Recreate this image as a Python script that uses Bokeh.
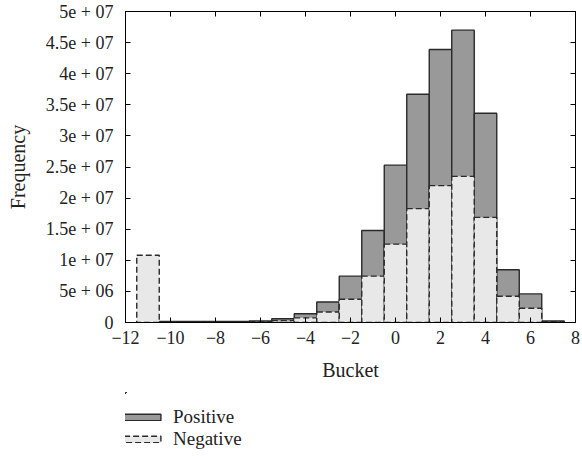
from bokeh.plotting import figure
from bokeh.layouts import column
from bokeh.models import (ColumnDataSource, LinearAxis, FixedTicker, Legend, LegendItem,
                          Range1d, CustomLabelingPolicy)
from bokeh.embed import file_html
from bokeh.resources import INLINE

buckets = list(range(-11, 8))
positive = [0.0, 0.15e6, 0.15e6, 0.15e6, 0.15e6, 0.25e6, 0.6e6, 1.4e6, 3.3e6, 7.45e6,
            14.8e6, 25.3e6, 36.7e6, 43.9e6, 47.0e6, 33.65e6, 8.47e6, 4.6e6, 0.25e6]
negative = [10.8e6, 0.08e6, 0.08e6, 0.08e6, 0.08e6, 0.12e6, 0.3e6, 0.75e6, 1.7e6, 3.75e6,
            7.45e6, 12.6e6, 18.3e6, 22.0e6, 23.5e6, 16.9e6, 4.23e6, 2.3e6, 0.12e6]
series_names = ["Positive", "Negative"]

x_ticks = list(range(-12, 9, 2))
x_tick_labels = ["\u221212", "\u221210", "\u22128", "\u22126", "\u22124", "\u22122",
                 "0", "2", "4", "6", "8"]
y_ticks = [i * 5e6 for i in range(11)]
y_tick_labels = ["0", "5e + 06", "1e + 07", "1.5e + 07", "2e + 07", "2.5e + 07",
                 "3e + 07", "3.5e + 07", "4e + 07", "4.5e + 07", "5e + 07"]

FONT = "Liberation Serif"
TXT = "#222222"
POS_STYLE = dict(fill_color="#999999", line_color="#2a2a2a", line_width=1.4)
NEG_STYLE = dict(fill_color="#e8e8e8", line_color="#2a2a2a", line_width=1.4, line_dash="6 3")

src = ColumnDataSource(dict(x=buckets, pos=positive, neg=negative))

p = figure(width=582, height=392, output_backend="svg", toolbar_location=None,
           x_range=Range1d(-12, 8), y_range=Range1d(0, 5e7),
           min_border_left=125, min_border_right=4, min_border_top=11, min_border_bottom=70,
           x_axis_label="Bucket", y_axis_label="Frequency")
p.grid.visible = False
p.outline_line_color = "black"
p.outline_line_width = 1

p.vbar(x="x", top="pos", width=1.0, source=src, **POS_STYLE)
p.vbar(x="x", top="neg", width=1.0, source=src, **NEG_STYLE)

xo = dict(zip(x_ticks, x_tick_labels))
yo = dict(zip(y_ticks, y_tick_labels))

def style(ax, labels=True):
    ax.axis_line_color = "black"
    ax.major_tick_in = 5
    ax.major_tick_out = 0
    ax.minor_tick_in = 0
    ax.minor_tick_out = 0
    ax.major_tick_line_color = "black"
    ax.major_label_text_font = FONT
    ax.axis_label_text_font = FONT
    ax.axis_label_text_font_style = "normal"
    ax.axis_label_text_font_size = "20px"
    ax.major_label_text_font_size = "18px"
    ax.major_label_text_color = TXT
    ax.axis_label_text_color = TXT
    if not labels:
        ax.major_label_policy = CustomLabelingPolicy(code="return new Set()")
        ax.major_label_text_font_size = "1px"
        ax.major_label_standoff = 0

xa = p.xaxis[0]
xa.ticker = FixedTicker(ticks=x_ticks)
xa.major_label_overrides = xo
style(xa)
xa.major_label_standoff = 8
xa.axis_label_standoff = 12

ya = p.yaxis[0]
ya.ticker = FixedTicker(ticks=y_ticks)
ya.major_label_overrides = yo
style(ya)
ya.major_label_standoff = 12
ya.axis_label_standoff = 14

top_ax = LinearAxis(ticker=FixedTicker(ticks=x_ticks))
style(top_ax, labels=False)
p.add_layout(top_ax, "above")
right_ax = LinearAxis(ticker=FixedTicker(ticks=y_ticks))
style(right_ax, labels=False)
p.add_layout(right_ax, "right")

# legend strip below the chart (its frame is aligned with the chart's frame);
# its ranges show none of the bars, only the legend is visible
lg = figure(width=582, height=64, output_backend="svg", toolbar_location=None,
            x_range=Range1d(100, 101), y_range=Range1d(-2, -1),
            x_axis_location=None, y_axis_location=None, min_border=0)
lg.grid.visible = False
lg.outline_line_color = None
l_pos = lg.vbar(x="x", top="pos", width=1.0, source=src, **POS_STYLE)
l_neg = lg.vbar(x="x", top="neg", width=1.0, source=src, **NEG_STYLE)

legend = Legend(items=[LegendItem(label=series_names[0], renderers=[l_pos]),
                       LegendItem(label=series_names[1], renderers=[l_neg])],
                location=(-6, 6), orientation="vertical",
                glyph_width=46, glyph_height=8, label_standoff=8,
                label_text_font=FONT, label_text_font_size="19px",
                label_text_color=TXT,
                label_height=8, spacing=-2, padding=0, margin=0,
                border_line_color=None, background_fill_alpha=0)
lg.add_layout(legend, "center")

open("out.html", "w").write(file_html(column(p, lg, spacing=0), INLINE))
